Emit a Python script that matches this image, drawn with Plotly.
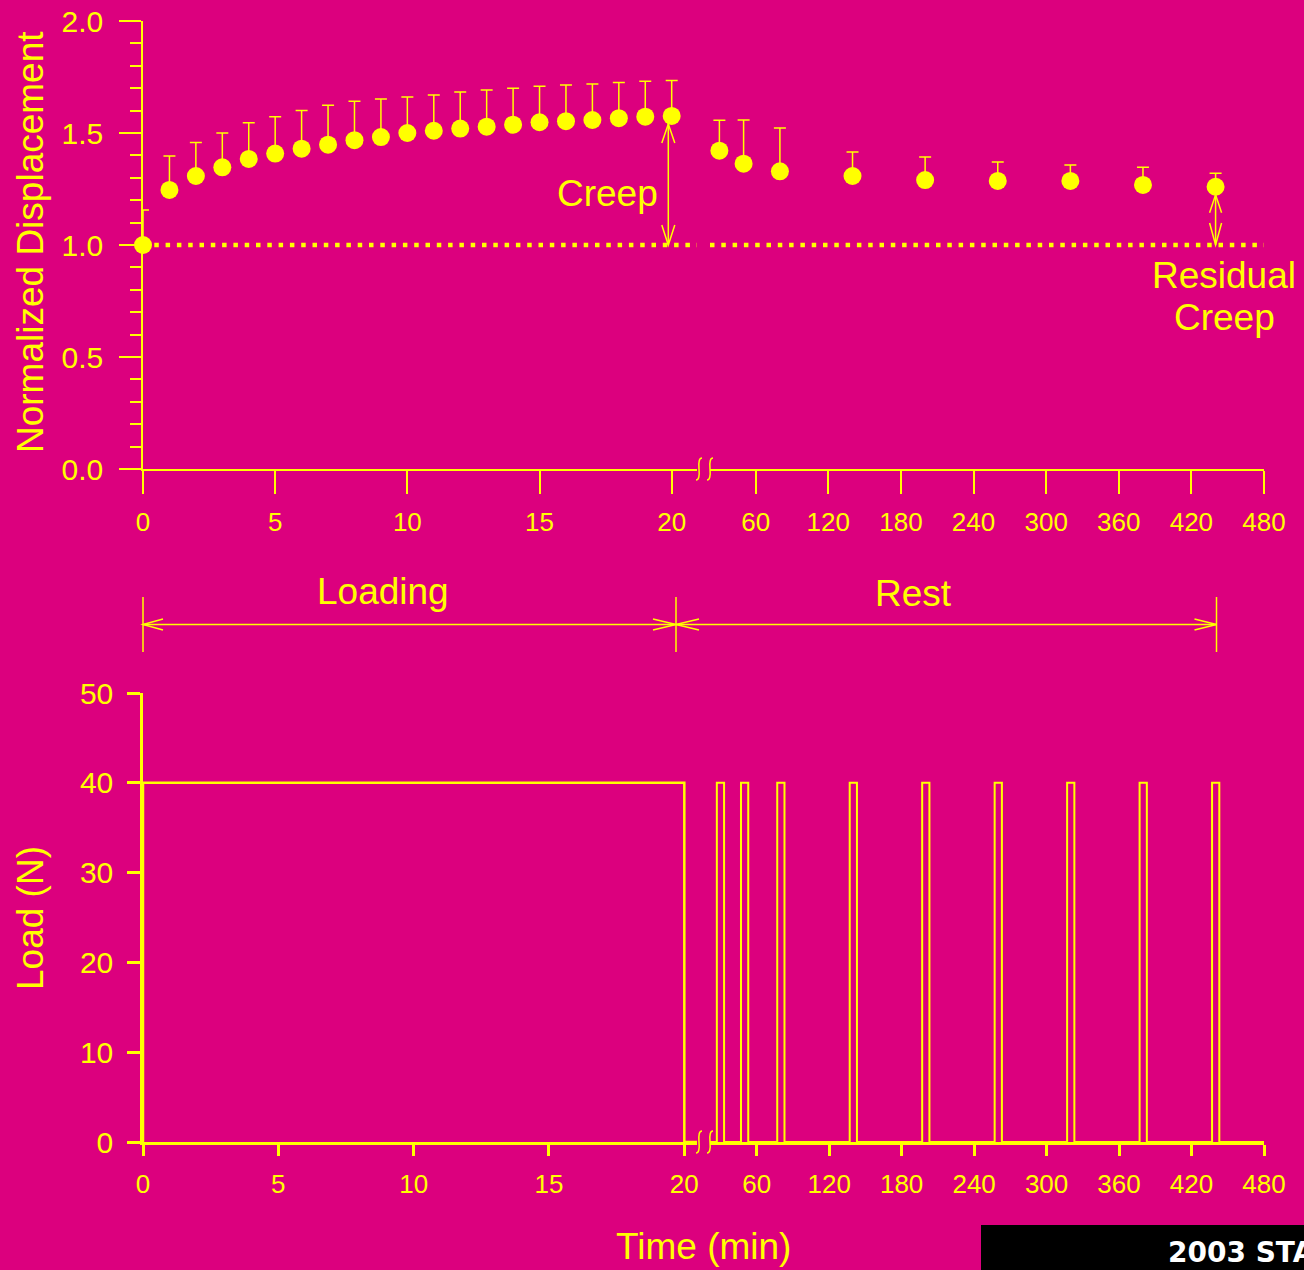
import plotly.graph_objects as go

W, H = 1304, 1270
BG = "#DC007E"
YEL = "#FFFF00"
FONT = "Liberation Sans, Arial, sans-serif"

# ---- data -------------------------------------------------------------
# Loading phase: one reading per minute, normalized displacement and upper SD
load_time = [0, 1, 2, 3, 4, 5, 6, 7, 8, 9, 10, 11, 12, 13, 14, 15, 16, 17, 18, 19, 20]
load_disp = [1.00, 1.246, 1.308, 1.347, 1.384, 1.408, 1.43, 1.448, 1.468, 1.482, 1.50,
             1.51, 1.52, 1.528, 1.537, 1.548, 1.553, 1.558, 1.566, 1.573, 1.576]
load_sd_top = [1.156, 1.397, 1.458, 1.50, 1.546, 1.573, 1.60, 1.624, 1.642, 1.652, 1.661,
               1.67, 1.683, 1.692, 1.70, 1.709, 1.714, 1.719, 1.725, 1.731, 1.734]

# Rest phase readings (minutes)
rest_time = [30, 50, 80, 140, 200, 260, 320, 380, 440]
rest_disp = [1.421, 1.363, 1.329, 1.308, 1.29, 1.286, 1.286, 1.268, 1.26]
rest_sd_top = [1.557, 1.558, 1.522, 1.415, 1.393, 1.37, 1.357, 1.347, 1.32]

# Applied load: constant 40 N for 20 min, then short test pulses during rest
load_level = 40
load_end = 20
pulse_on = [27, 47, 77, 137, 197, 257, 317, 377, 437]
pulse_off = [33, 53, 83, 143, 203, 263, 323, 383, 443]

x_ticks_a = [0, 5, 10, 15, 20]
x_ticks_b = [60, 120, 180, 240, 300, 360, 420, 480]

# ---- layout helpers ----------------------------------------------------
def fx(px):
    return px / W


def fy(py):
    return 1 - py / H


# axis ranges for the broken time axis (linear 0-20, then compressed to 480)
up_a_range = [0, 20.957]
up_b_range = [22.24, 480]
lo_a_range = [0, 20.469]
lo_b_range = [21.34, 480]

fig = go.Figure()

err_style = dict(type="data", symmetric=False, color=YEL, thickness=1.5, width=6)

# dotted baseline at 1.0 (drawn first so the markers sit on top)
dot_line = dict(color=YEL, width=4.5, dash="4.5px,6.8px")
fig.add_trace(go.Scatter(x=up_a_range, y=[1, 1], mode="lines", line=dot_line,
                         xaxis="x", yaxis="y"))
fig.add_trace(go.Scatter(x=up_b_range, y=[1, 1], mode="lines", line=dot_line,
                         xaxis="x2", yaxis="y"))

fig.add_trace(go.Scatter(
    x=load_time, y=load_disp, mode="markers", cliponaxis=False,
    marker=dict(size=18, color=YEL),
    error_y=dict(array=[t - v for t, v in zip(load_sd_top, load_disp)],
                 arrayminus=[0] * len(load_disp), **err_style),
    xaxis="x", yaxis="y"))
fig.add_trace(go.Scatter(
    x=rest_time, y=rest_disp, mode="markers", cliponaxis=False,
    marker=dict(size=18, color=YEL),
    error_y=dict(array=[t - v for t, v in zip(rest_sd_top, rest_disp)],
                 arrayminus=[0] * len(rest_disp), **err_style),
    xaxis="x2", yaxis="y"))

# load history
fig.add_trace(go.Scatter(
    x=[0, 0, load_end, load_end, lo_a_range[1]],
    y=[0, load_level, load_level, 0, 0],
    mode="lines", line=dict(color=YEL, width=2.5), cliponaxis=False,
    xaxis="x3", yaxis="y2"))
px_, py_ = [lo_b_range[0]], [0]
for a, b in zip(pulse_on, pulse_off):
    px_ += [a, a, b, b]
    py_ += [0, load_level, load_level, 0]
px_.append(480)
py_.append(0)
fig.add_trace(go.Scatter(x=px_, y=py_, mode="lines", cliponaxis=False,
                         line=dict(color=YEL, width=2), xaxis="x4", yaxis="y2"))

# ---- axes ----------------------------------------------------------------
def xstyle(ticklen, width):
    return dict(showline=True, linecolor=YEL, linewidth=width, ticks="outside",
                ticklen=ticklen, tickcolor=YEL, tickwidth=width, showgrid=False,
                zeroline=False, automargin=False, fixedrange=True,
                ticklabelstandoff=6,
                tickfont=dict(family=FONT, size=26, color=YEL))


up_x = xstyle(23, 1.5)
lo_x = xstyle(11, 2.5)

fig.update_layout(
    xaxis=dict(domain=[fx(143), fx(697)], range=up_a_range, anchor="y",
               tickvals=x_ticks_a, **up_x),
    xaxis2=dict(domain=[fx(710), fx(1264)], range=up_b_range, anchor="y",
                tickvals=x_ticks_b, **up_x),
    xaxis3=dict(domain=[fx(143), fx(697)], range=lo_a_range, anchor="y2",
                tickvals=x_ticks_a, **lo_x),
    xaxis4=dict(domain=[fx(710), fx(1264)], range=lo_b_range, anchor="y2",
                tickvals=x_ticks_b, **lo_x),
    yaxis=dict(domain=[fy(469), fy(21)], range=[0, 2], anchor="x",
               tick0=0, dtick=0.5, tickformat=".1f",
               showline=True, linecolor=YEL, linewidth=1.5, ticks="outside",
               ticklen=22, tickcolor=YEL, tickwidth=1.5, showgrid=False,
               zeroline=False, automargin=False, fixedrange=True,
               ticklabelstandoff=10,
               minor=dict(dtick=0.1, ticks="outside", ticklen=11,
                          tickcolor=YEL, tickwidth=1.5, showgrid=False),
               tickfont=dict(family=FONT, size=30, color=YEL)),
    yaxis2=dict(domain=[fy(1142), fy(693)], range=[0, 50], anchor="x3",
                tick0=0, dtick=10,
                showline=True, linecolor=YEL, linewidth=2.5, ticks="outside",
                ticklen=13, tickcolor=YEL, tickwidth=2.5, showgrid=False,
                zeroline=False, automargin=False, fixedrange=True,
                ticklabelstandoff=8,
                tickfont=dict(family=FONT, size=30, color=YEL)),
)

# ---- shapes: arrows, brackets, axis breaks ---------------------------------
shapes = []
LW = 1.5


def pline(x0, y0, x1, y1, w=LW):
    shapes.append(dict(type="line", xref="paper", yref="paper",
                       x0=fx(x0), y0=fy(y0), x1=fx(x1), y1=fy(y1),
                       line=dict(color=YEL, width=w)))


def ppath(ax, ay, path, w=LW, xref="paper", yref="paper", layer="above"):
    shapes.append(dict(type="path", xref=xref, yref=yref,
                       xsizemode="pixel", ysizemode="pixel",
                       xanchor=ax, yanchor=ay, path=path, layer=layer,
                       line=dict(color=YEL, width=w)))


# Creep arrow between baseline and the 20-min value
shapes.append(dict(type="line", xref="x", yref="y", xsizemode="pixel",
                   xanchor=load_time[-1], x0=-3.4, x1=-3.4,
                   y0=1.0, y1=load_disp[-1], layer="below",
                   line=dict(color=YEL, width=LW)))
ppath(load_time[-1], load_disp[-1], "M-9.9,-27 L-3.4,-8 L3.1,-27",
      xref="x", yref="y", layer="below")
ppath(load_time[-1], 1.0, "M-9.9,20 L-3.4,0 L3.1,20", xref="x", yref="y",
      layer="below")

# Residual creep arrow at the last rest reading
shapes.append(dict(type="line", xref="x2", yref="y", xsizemode="pixel",
                   xanchor=rest_time[-1], x0=0, x1=0,
                   y0=1.0, y1=rest_disp[-1], layer="below",
                   line=dict(color=YEL, width=LW)))
ppath(rest_time[-1], rest_disp[-1], "M-6,-26 L0,-8 L6,-26",
      xref="x2", yref="y", layer="below")
ppath(rest_time[-1], 1.0, "M-6,22 L0,0 L6,22", xref="x2", yref="y",
      layer="below")

# Loading / Rest brackets
ya = 624.5
for xv in (143, 676, 1216.5):
    pline(xv, 597, xv, 652)
pline(143, ya, 1216.5, ya)
ppath(fx(143), fy(ya), "M20,5.5 L0,0 L20,-5.5")
ppath(fx(676), fy(ya), "M-23,5.5 L0,0 L-23,-5.5")
ppath(fx(676), fy(ya), "M23,5.5 L0,0 L23,-5.5")
ppath(fx(1216.5), fy(ya), "M-22,5.5 L0,0 L-22,-5.5")

# axis break marks
brk = "M3,11 Q-1,11 0,0 Q1,-11 -3,-11"
for yv in (469, 1142):
    for xv in (699, 710):
        ppath(fx(xv), fy(yv), brk)

# footer strip
shapes.append(dict(type="rect", xref="paper", yref="paper",
                   x0=fx(981), x1=fx(1310), y0=fy(1275), y1=fy(1225),
                   fillcolor="#000000", line=dict(width=0)))

fig.update_layout(shapes=shapes)

# ---- text ----------------------------------------------------------------
def txt(x, y, s, size=37, angle=0, **kw):
    return dict(x=fx(x), y=fy(y), xref="paper", yref="paper", text=s,
                showarrow=False, textangle=angle, xanchor=kw.get("xanchor", "center"),
                yanchor="middle",
                font=dict(family=kw.get("family", FONT), size=size,
                          color=kw.get("color", YEL)))


annotations = [
    txt(30, 242, "Normalized Displacement", angle=-90),
    txt(30, 918, "Load (N)", angle=-90),
    txt(703, 1246, "Time (min)"),
    txt(607, 193, "Creep"),
    txt(1224, 275, "Residual"),
    txt(1224, 318, "Creep"),
    txt(383, 591, "Loading"),
    txt(914, 593, "Rest"),
    txt(1166, 1252, "<b>2003 STA</b>", size=28, xanchor="left",
        family="DejaVu Sans, Verdana, sans-serif", color="#FFFFFF"),
]

fig.update_layout(
    annotations=annotations,
    width=W, height=H, template="none",
    margin=dict(l=0, r=0, t=0, b=0),
    paper_bgcolor=BG, plot_bgcolor=BG,
    showlegend=False,
    font=dict(family=FONT, color=YEL),
)

fig.write_html("out.html", config={"displayModeBar": False})
